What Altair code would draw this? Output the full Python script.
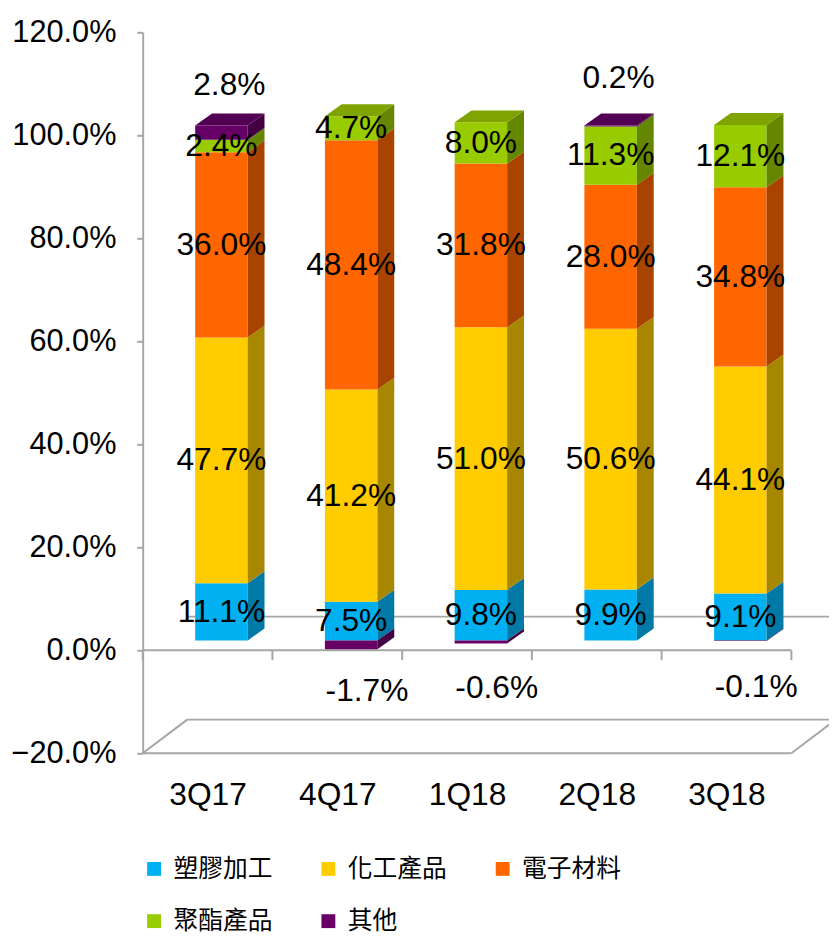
import json
import altair as alt
import pandas as pd

# ---------------- data ----------------
quarters = ["3Q17", "4Q17", "1Q18", "2Q18", "3Q18"]
series = ["塑膠加工", "化工產品", "電子材料", "聚酯產品", "其他"]
plastics = [11.1, 7.5, 9.8, 9.9, 9.1]
chemicals = [47.7, 41.2, 51.0, 50.6, 44.1]
electronic = [36.0, 48.4, 31.8, 28.0, 34.8]
polyester = [2.4, 4.7, 8.0, 11.3, 12.1]
other = [2.8, -1.7, -0.6, 0.2, -0.1]
y_ticks = [-20, 0, 20, 40, 60, 80, 100, 120]

# ---------------- style ----------------
front_colors = ["#00B0F0", "#FFCC00", "#FF6600", "#99CC00", "#660066"]
side_colors = ["#0079A6", "#A88700", "#A84400", "#658700", "#430043"]
top_colors = ["#0092C6", "#D4AA00", "#D45500", "#7FA300", "#520052"]
GRAY = "#A6A6A6"
FONT = "Liberation Sans"

# geometry of the pseudo-3D drawing (pixels converted to scale units)
PX_X = 131.0   # px per category
PX_Y = 5.2     # px per percent
W, H = 693, 728
BAR_L = 53 / PX_X
BAR_R = 106 / PX_X
DX = 17 / PX_X
DY = 12 / PX_Y
LIFT = 10 / PX_Y
WALL_DX = 45 / PX_X
WALL_DY = 34 / PX_Y
TICK = 10 / PX_Y
N = len(quarters)

values = [plastics, chemicals, electronic, polyester, other]

front_rows, side_rows, top_rows, label_rows = [], [], [], []
for i, q in enumerate(quarters):
    pos, neg = 0.0, 0.0
    top_series = None
    for s, vals in zip(series, values):
        v = vals[i]
        if v >= 0:
            y0, y1 = pos, pos + v
            pos = y1
            top_series = s
        else:
            y0, y1 = neg + v, neg
            neg = y0
        front_rows.append(dict(quarter=q, series=s, x1=i + BAR_L, x2=i + BAR_R,
                               y0=y0 + LIFT, y1=y1 + LIFT))
        g = f"{q}-{s}"
        side_rows.append(dict(g=g, series=s, x=i + BAR_R, lo=y0 + LIFT, hi=y1 + LIFT))
        side_rows.append(dict(g=g, series=s, x=i + BAR_R + DX, lo=y0 + LIFT + DY, hi=y1 + LIFT + DY))
        kind = "in" if s != series[-1] else ("pos" if v >= 0 else "neg")
        label_rows.append(dict(quarter=q, series=s, kind=kind,
                               cx=i + (BAR_L + BAR_R) / 2, cy=(y0 + y1) / 2 + LIFT,
                               text=f"{v:.1f}%"))
    top_rows.append(dict(g=q, series=top_series, ty=pos + LIFT, tx1=i + BAR_L, tx2=i + BAR_R))
    top_rows.append(dict(g=q, series=top_series, ty=pos + LIFT + DY, tx1=i + BAR_L + DX, tx2=i + BAR_R + DX))

front_df = pd.DataFrame(front_rows)
side_df = pd.DataFrame(side_rows)
top_df = pd.DataFrame(top_rows)
label_df = pd.DataFrame(label_rows)

# frame lines (floor, back-wall zero line, front zero line with ticks)
frame_rows = [
    dict(x=0, x2=N, y=-20, y2=-20),
    dict(x=WALL_DX, x2=N + WALL_DX, y=-20 + WALL_DY, y2=-20 + WALL_DY),
    dict(x=0, x2=WALL_DX, y=-20, y2=-20 + WALL_DY),
    dict(x=N, x2=N + WALL_DX, y=-20, y2=-20 + WALL_DY),
    dict(x=WALL_DX, x2=N + WALL_DX, y=WALL_DY, y2=WALL_DY),
    dict(x=0, x2=N, y=0, y2=0),
]
for k in range(N + 1):
    frame_rows.append(dict(x=k, x2=k, y=0, y2=-TICK))
frame_df = pd.DataFrame(frame_rows)

# ---------------- scales & axes ----------------
x_scale = alt.Scale(domain=[0, W / PX_X], nice=False, zero=False)
y_scale = alt.Scale(domain=[y_ticks[0], y_ticks[-1]], nice=False, zero=False)
x_axis = alt.Axis(values=[k + 0.5 for k in range(N)],
                  labelExpr=json.dumps(quarters) + "[floor(datum.value)]",
                  domain=False, ticks=False, grid=False, title=None,
                  labelFontSize=32, labelPadding=27, labelColor="black", labelFont=FONT)
y_axis = alt.Axis(values=y_ticks, labelExpr="format(datum.value, '.1f') + '%'",
                  domain=True, domainColor=GRAY, domainWidth=2,
                  ticks=True, tickColor=GRAY, tickWidth=2, tickSize=6,
                  grid=False, title=None, labelFontSize=31, labelPadding=21,
                  labelColor="black", labelFont=FONT)

frame = alt.Chart(frame_df).mark_rule(color=GRAY, strokeWidth=2).encode(
    x=alt.X("x:Q", scale=x_scale, axis=x_axis),
    x2="x2:Q",
    y=alt.Y("y:Q", scale=y_scale, axis=y_axis),
    y2="y2:Q",
)

front = alt.Chart(front_df).mark_rect().encode(
    x=alt.X("x1:Q", scale=x_scale, axis=x_axis),
    x2="x2:Q",
    y=alt.Y("y0:Q", scale=y_scale, axis=y_axis),
    y2="y1:Q",
    color=alt.Color("series:N", scale=alt.Scale(domain=series, range=front_colors),
                    legend=alt.Legend(orient="none", legendX=-1, legendY=832, columns=3,
                                      direction="horizontal", title=None,
                                      symbolType="square", symbolSize=196,
                                      symbolStrokeWidth=0, labelFontSize=25,
                                      labelFont="Noto Sans CJK TC", labelColor="black",
                                      labelOffset=7, columnPadding=43, rowPadding=27,
                                      labelLimit=300)),
)

side = alt.Chart(side_df).mark_area(orient="vertical").encode(
    x=alt.X("x:Q", scale=x_scale, axis=x_axis),
    y=alt.Y("lo:Q", scale=y_scale, axis=y_axis, stack=None),
    y2="hi:Q",
    detail="g:N",
    color=alt.Color("series:N", scale=alt.Scale(domain=series, range=side_colors), legend=None),
)

top = alt.Chart(top_df).mark_area(orient="horizontal").encode(
    y=alt.Y("ty:Q", scale=y_scale, axis=y_axis),
    x=alt.X("tx1:Q", scale=x_scale, axis=x_axis, stack=None),
    x2="tx2:Q",
    detail="g:N",
    color=alt.Color("series:N", scale=alt.Scale(domain=series, range=top_colors), legend=None),
)

def text_layer(kind, dx=0, dy=0):
    return alt.Chart(label_df).transform_filter(
        alt.datum.kind == kind
    ).mark_text(font=FONT, fontSize=32, color="black", dx=dx, dy=dy,
                align="center", baseline="middle").encode(
        x=alt.X("cx:Q", scale=x_scale, axis=x_axis),
        y=alt.Y("cy:Q", scale=y_scale, axis=y_axis),
        text="text:N",
    )

labels_in = text_layer("in")
labels_pos = text_layer("pos", dx=8, dy=-48)
labels_neg = text_layer("neg", dx=16, dy=47)

chart = alt.layer(frame, front, side, top, labels_in, labels_pos, labels_neg).resolve_scale(
    color="independent"
).properties(
    width=W, height=H,
    autosize=alt.AutoSizeParams(type="none"),
    padding={"left": 136, "top": 20, "right": 0, "bottom": 186},
    background="white",
).configure_view(stroke=None)

chart.save("out.html", embed_options={"renderer": "svg", "actions": False})
